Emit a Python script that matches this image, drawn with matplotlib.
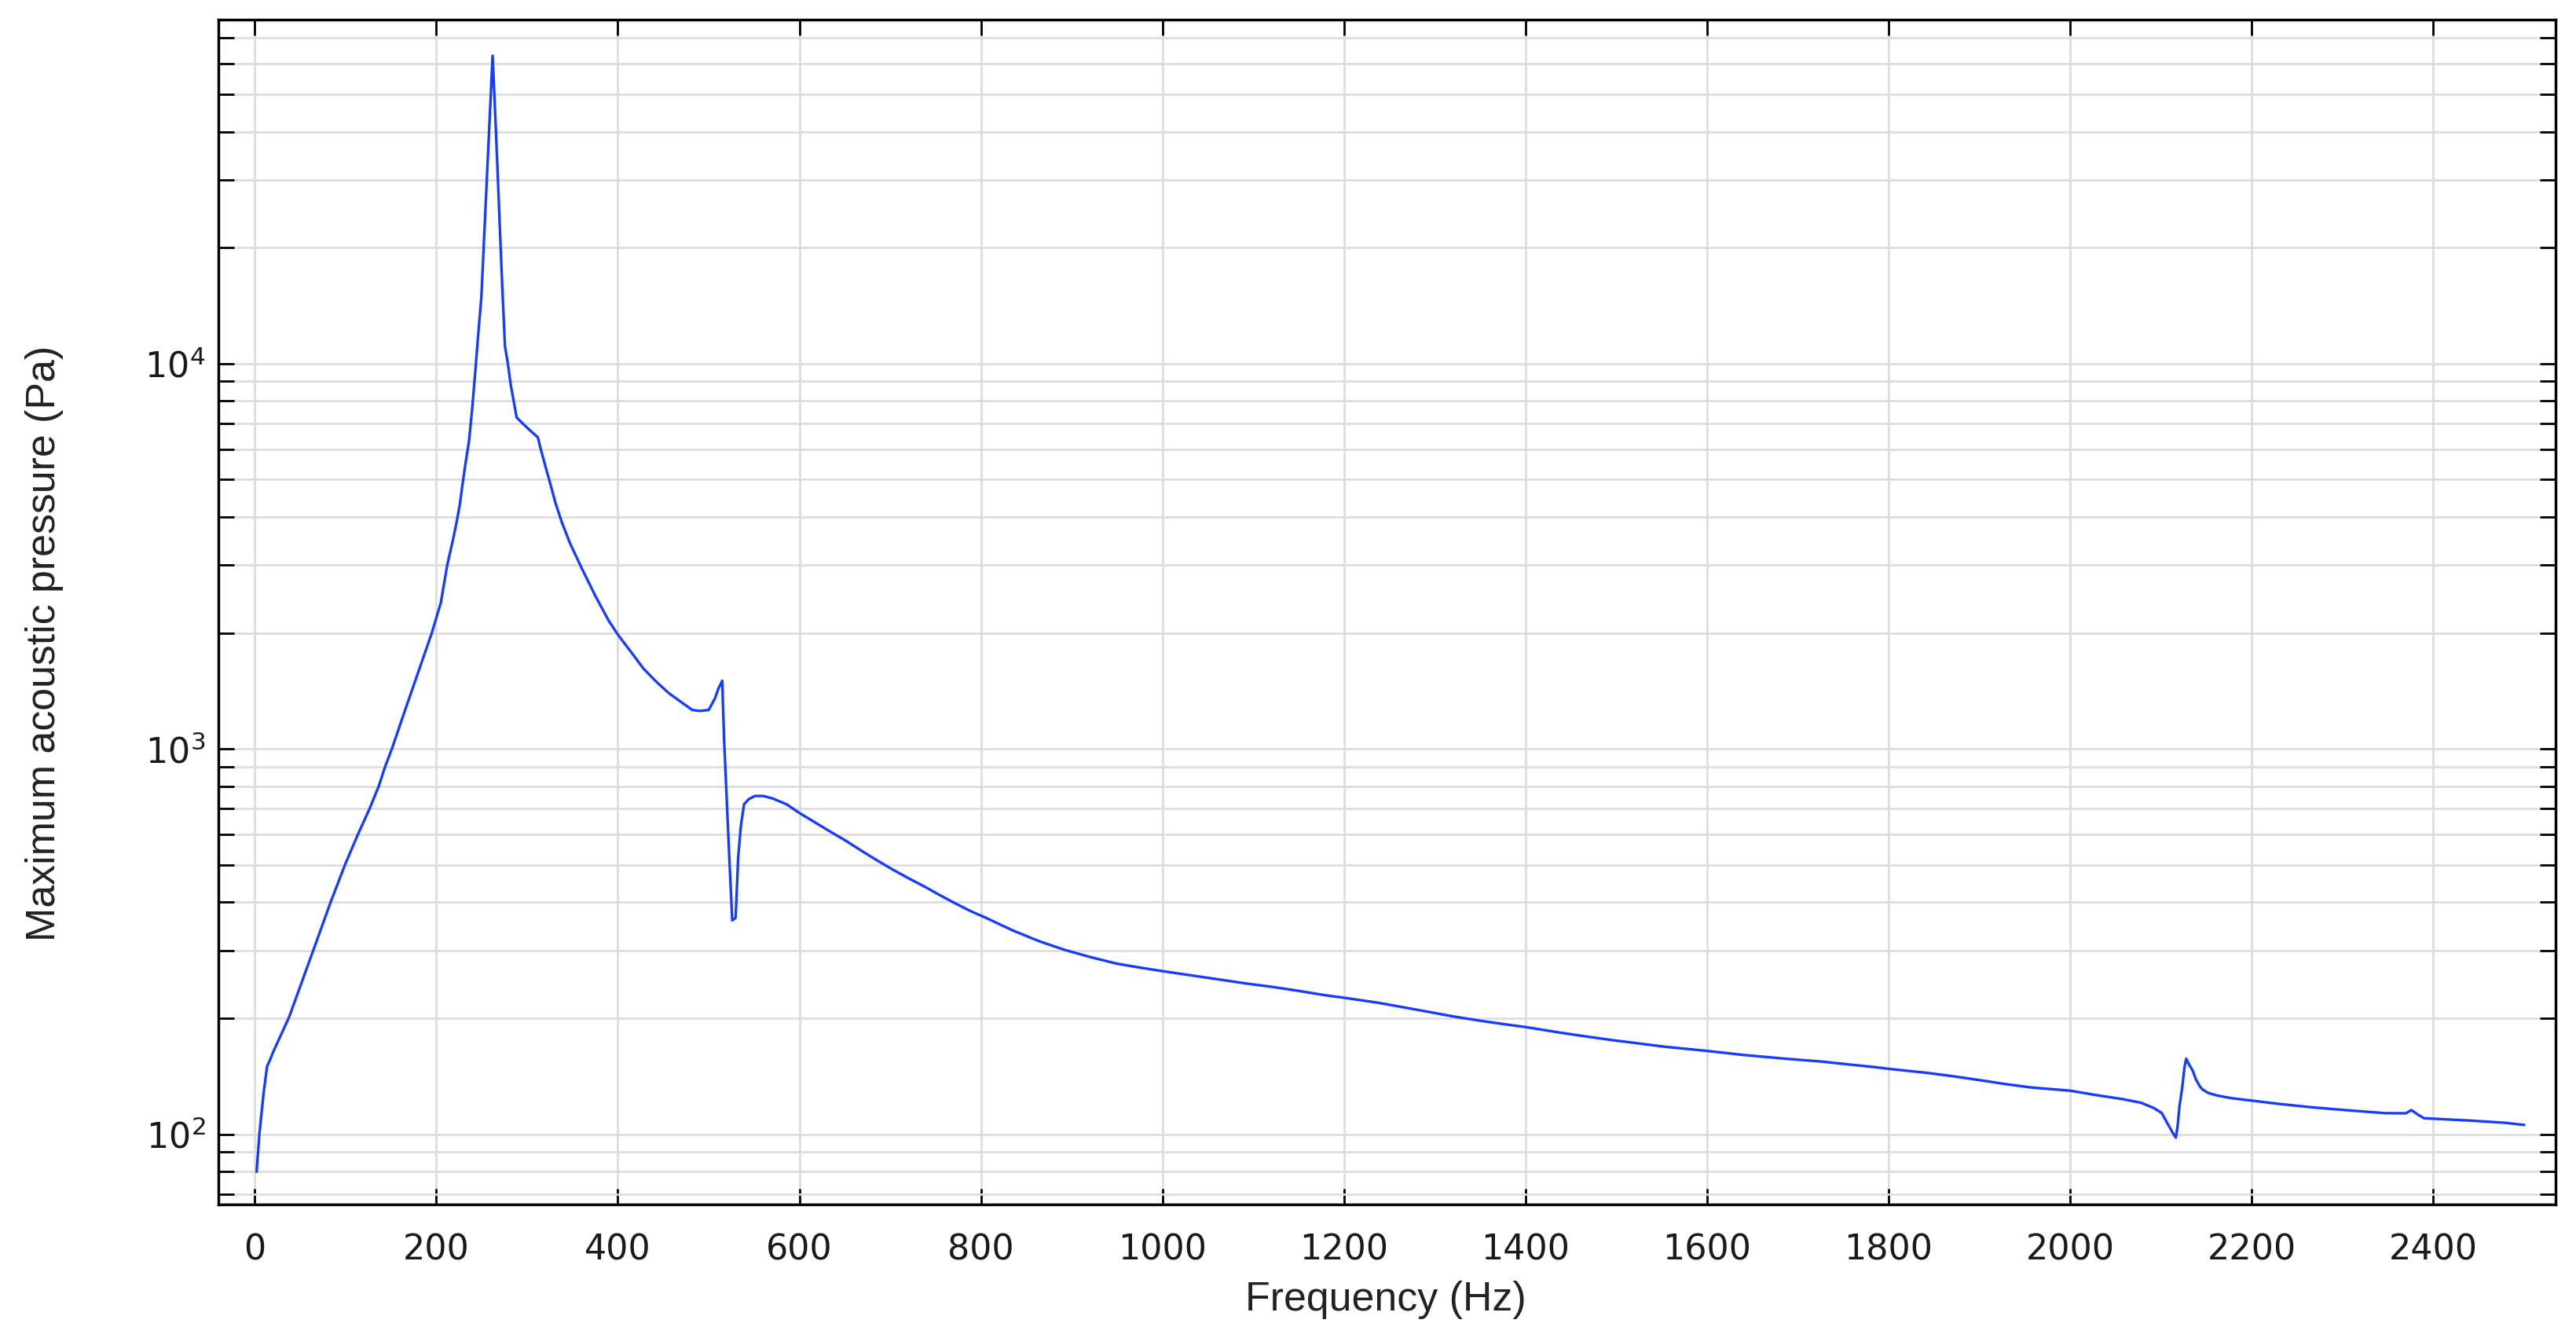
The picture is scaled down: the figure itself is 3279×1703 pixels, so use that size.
import matplotlib
matplotlib.use("Agg")
import matplotlib.pyplot as plt
from matplotlib.ticker import LogLocator, NullFormatter, NullLocator

# Frequency (Hz)
freq = [2, 5, 9.7, 13.5, 16.3, 20, 26, 32, 38,
        64.4, 83.5, 99.3, 113.6, 126.5, 136.5, 143.6, 151, 165, 180, 195, 205, 212,
        219, 222.8, 226, 229, 232.4, 236, 239.4, 243, 246, 249.6,
        252.6, 255.8, 259, 262, 265.7, 269, 272.4, 275.6, 278.8, 282,
        285.5, 288.5, 295, 302, 311.8, 314.8, 320.6, 327, 331, 338,
        347, 360, 375, 390, 400, 416, 428, 442, 456, 469,
        482, 490, 500, 507, 510.5, 515, 517, 520, 523, 526,
        529.7, 532.6, 535.4, 539, 544, 551, 560, 571, 586, 600,
        617, 634, 652, 669, 686, 703, 720, 738, 755, 772,
        789, 806, 835, 864, 892, 921, 950, 978, 1000, 1036,
        1065, 1093, 1122, 1150, 1179, 1200, 1237, 1263, 1292, 1321,
        1350, 1380, 1400, 1438, 1467, 1496, 1525, 1554, 1600, 1642,
        1688, 1727, 1755, 1784, 1800, 1842, 1870, 1899, 1928, 1957,
        2000, 2029, 2058, 2078, 2092, 2101, 2106.5,
        2111, 2114, 2116.5, 2118.5, 2120.5, 2123.5, 2126, 2128, 2131.5, 2135,
        2138.5, 2143, 2146, 2152, 2162, 2178, 2203, 2232, 2267, 2305,
        2347, 2370, 2376, 2383, 2390, 2440, 2480, 2500]

# Maximum acoustic pressure (Pa)
pressure = [80, 100, 128, 150, 155, 163, 175, 188, 202,
            300, 400, 500, 600, 700, 800, 900, 1000, 1250, 1580, 2000, 2400, 3000,
            3550, 3930, 4330, 4900, 5560, 6300, 7600, 9600, 11800, 14900,
            21200, 30700, 44400, 63000, 40000, 25700, 16300, 11100, 10000, 8800,
            7940, 7250, 7000, 6750, 6440, 6030, 5370, 4740, 4370, 3890,
            3430, 2950, 2500, 2150, 1980, 1766, 1618, 1497, 1396, 1327,
            1262, 1255, 1262, 1353, 1429, 1503, 1061, 735, 508, 359,
            364, 525, 628, 718, 740, 755, 755, 743, 718, 682,
            645, 610, 576, 543, 513, 486, 462, 439, 417, 397,
            379, 364, 338, 317, 301, 288, 277, 270, 265, 257.5,
            251.5, 246, 241, 235.5, 229.5, 226, 219.5, 214, 208, 202,
            197, 192.5, 189.7, 183.5, 179.3, 175.4, 172, 168.6, 164.5, 160.4,
            156.9, 154.3, 151.8, 149.4, 147.8, 144.3, 141.5, 138.3, 135, 132.2,
            129.7, 126.3, 123.3, 120.7, 117, 113.5, 107.5,
            103, 100, 98, 105, 118, 132, 149, 157, 151, 146.5,
            139, 133, 130.6, 128, 126, 124, 122, 119.7, 117.4, 115.4,
            113.4, 113.3, 115.5, 112.5, 110, 108.5, 107, 105.7]

x_ticks = [0, 200, 400, 600, 800, 1000, 1200, 1400, 1600, 1800, 2000, 2200, 2400]

fig = plt.figure(figsize=(32.8, 17.03), dpi=100)
ax = fig.add_axes([0.0848, 0.0998, 0.9070, 0.8856])

ax.plot(freq, pressure, color="#163cff", lw=2.4, zorder=3)

ax.set_yscale("log")
ax.set_xlim(-40, 2535)
ax.set_ylim(65.7, 78200)

ax.set_xticks(x_ticks)
ax.xaxis.set_minor_locator(NullLocator())
ax.yaxis.set_major_locator(LogLocator(base=10))
ax.yaxis.set_minor_locator(LogLocator(base=10, subs=[2, 3, 4, 5, 6, 7, 8, 9]))
ax.yaxis.set_minor_formatter(NullFormatter())

ax.grid(True, which="major", axis="both", color="#dcdcdc", lw=1.95, zorder=0)
ax.grid(True, which="minor", axis="y", color="#dcdcdc", lw=1.95, zorder=0)
ax.set_axisbelow(True)

for s in ax.spines.values():
    s.set_linewidth(2.5)
    s.set_color("black")

ax.tick_params(which="both", direction="in", top=True, right=True,
               length=14.5, width=2.0, color="black")
ax.tick_params(axis="x", which="major", pad=26, labelsize=32, labelcolor="#1a1a1a")
ax.tick_params(axis="y", which="both", pad=12, labelsize=32, labelcolor="#1a1a1a")
for lab in ax.get_xticklabels() + ax.get_yticklabels():
    lab.set_family("DejaVu Sans")

ax.set_xlabel("Frequency (Hz)", family=["Liberation Sans", "DejaVu Sans"],
              fontsize=37.4, color="#222222", va="baseline")
ax.xaxis.set_label_coords(0.4993, -0.0895)
ax.set_ylabel("Maximum acoustic pressure (Pa)", family=["Liberation Sans", "DejaVu Sans"],
              fontsize=37.4, color="#222222", va="baseline")
ax.yaxis.set_label_coords(-0.0699, 0.4735)

fig.savefig("out.png", dpi=100)
